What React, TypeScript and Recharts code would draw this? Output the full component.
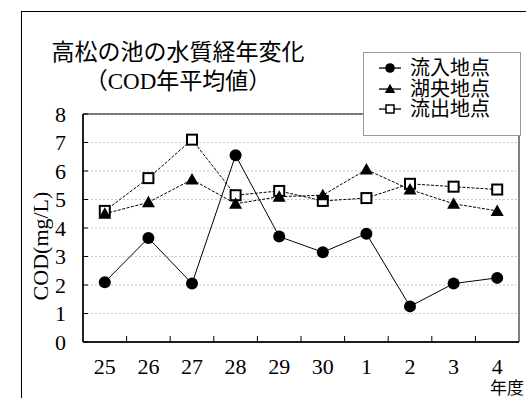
import { ComposedChart, Line, XAxis, YAxis, CartesianGrid, ReferenceArea, Legend } from 'recharts';

// 年度 (平成25〜30, 令和1〜4)
const years = ['25', '26', '27', '28', '29', '30', '1', '2', '3', '4'];
// COD 年平均値 (mg/L)
const inflow = [2.1, 3.65, 2.05, 6.55, 3.7, 3.15, 3.8, 1.25, 2.05, 2.25];
const center = [4.5, 4.9, 5.7, 4.85, 5.1, 5.15, 6.05, 5.35, 4.85, 4.6];
const outflow = [4.6, 5.75, 7.1, 5.15, 5.3, 4.95, 5.05, 5.55, 5.45, 5.35];
const yTicks = [0, 1, 2, 3, 4, 5, 6, 7, 8];

const data = years.map((y, i) => ({ year: y, inflow: inflow[i], center: center[i], outflow: outflow[i] }));

const NUM_FONT = '"Liberation Serif", "Noto Sans CJK JP", serif';
const JP_FONT = '"Liberation Serif", "Noto Sans CJK JP", sans-serif';

function Circle({ cx, cy, s = 1 }: any) {
  return <circle cx={cx} cy={cy} r={6 * s} fill="#000" />;
}
function Triangle({ cx, cy, s = 1 }: any) {
  const a = 6.5 * s, b = 5 * s;
  return <polygon points={`${cx},${cy - a} ${cx + a},${cy + b} ${cx - a},${cy + b}`} fill="#000" />;
}
function Square({ cx, cy, s = 1 }: any) {
  const h = 5 * s;
  return <rect x={cx - h} y={cy - h} width={2 * h} height={2 * h} fill="#fff" stroke="#000" strokeWidth={s < 1 ? 1.5 : 2} />;
}

const markers: any = { inflow: Circle, center: Triangle, outflow: Square };

function XTick({ x, y, payload, index }: any) {
  const half = payload.offset ?? 0;
  return (
    <g>
      {index < years.length - 1 && (
        <line x1={x + half} x2={x + half} y1={y} y2={y - 6} stroke="#000" strokeWidth={1} />
      )}
      <text x={x} y={y + 32} textAnchor="middle" fontSize={22} fontFamily={NUM_FONT} fill="#000">
        {payload.value}
      </text>
    </g>
  );
}

function LegendBox({ payload }: any) {
  const order = ['inflow', 'center', 'outflow'];
  const items = [...(payload || [])].sort((a: any, b: any) => order.indexOf(a.dataKey) - order.indexOf(b.dataKey));
  return (
    <div style={{ border: '1px solid #999', background: '#fff', width: 158, height: 84, paddingTop: 5, boxSizing: 'border-box' }}>
      {items.map((it: any) => {
        const M = markers[it.dataKey];
        return (
          <div key={it.dataKey} style={{ display: 'flex', alignItems: 'center', height: 20.5, paddingLeft: 15 }}>
            <svg width={22} height={16} style={{ marginRight: 9, display: 'block' }}>
              <rect x={0} y={7.4} width={22} height={1.3} fill="#000" />
              <M cx={11} cy={8} s={0.8} />
            </svg>
            <span style={{ fontSize: 20, fontFamily: JP_FONT, color: '#000', lineHeight: '20px' }}>{it.value}</span>
          </div>
        );
      })}
    </div>
  );
}

export default function App() {
  return (
    <div style={{ position: 'absolute', left: 0, top: 0, width: 526, height: 398, overflow: 'hidden', background: '#fff' }}>
      <ComposedChart width={526} height={398} data={data} margin={{ top: 114, right: 7, left: 0, bottom: 0 }}>
        <CartesianGrid horizontal vertical={false} stroke="#c8c8c8" strokeDasharray="2 2" />
        <ReferenceArea y1={0} y2={8} fill="none" stroke="#000" strokeWidth={1} />
        <XAxis
          dataKey="year"
          scale="band"
          height={56}
          interval={0}
          tickLine={false}
          tickSize={0}
          tickMargin={0}
          axisLine={{ stroke: '#000', strokeWidth: 1.5 }}
          tick={<XTick />}
        />
        <YAxis
          width={83}
          domain={[0, 8]}
          ticks={yTicks}
          interval={0}
          tickSize={-5}
          tickMargin={22}
          tickLine={{ stroke: '#000' }}
          axisLine={{ stroke: '#000', strokeWidth: 1.5 }}
          tick={{ fontSize: 22, fontFamily: NUM_FONT, fill: '#000' }}
          label={({ viewBox }: any) => {
            const cx = viewBox.x + 40;
            const cy = viewBox.y + viewBox.height / 2 + 18;
            return (
              <text x={cx} y={cy} transform={`rotate(-90, ${cx}, ${cy})`} textAnchor="middle" dominantBaseline="central" fontSize={22} fontFamily={NUM_FONT} fill="#000">
                COD(mg/L)
              </text>
            );
          }}
        />
        <Legend
          layout="horizontal"
          verticalAlign="middle"
          align="center"
          content={<LegendBox />}
          wrapperStyle={{ position: 'absolute', left: 363, top: 52, width: 158, height: 84 }}
        />
        <Line dataKey="outflow" name="流出地点" stroke="#000" strokeWidth={1} strokeDasharray="3 1.5" isAnimationActive={false}
          dot={(p: any) => <Square key={p.index} cx={p.cx} cy={p.cy} />} />
        <Line dataKey="center" name="湖央地点" stroke="#000" strokeWidth={1} strokeDasharray="3 1.5" isAnimationActive={false}
          dot={(p: any) => <Triangle key={p.index} cx={p.cx} cy={p.cy} />} />
        <Line dataKey="inflow" name="流入地点" stroke="#000" strokeWidth={1} isAnimationActive={false}
          dot={(p: any) => <Circle key={p.index} cx={p.cx} cy={p.cy} />} />
      </ComposedChart>
      <svg width={526} height={398} style={{ position: 'absolute', left: 0, top: 0, pointerEvents: 'none' }}>
        <rect x={21.5} y={11.5} width={600} height={500} fill="none" stroke="#000" strokeWidth={1} />
        <text x={178} y={60} textAnchor="middle" fontSize={23} fontFamily={JP_FONT} fill="#000">高松の池の水質経年変化</text>
        <text x={178} y={89} textAnchor="middle" fontSize={23} fontFamily={JP_FONT} fill="#000">（COD年平均値）</text>
        <text x={490} y={394} fontSize={17} fontFamily={JP_FONT} fill="#000">年度</text>
      </svg>
    </div>
  );
}
